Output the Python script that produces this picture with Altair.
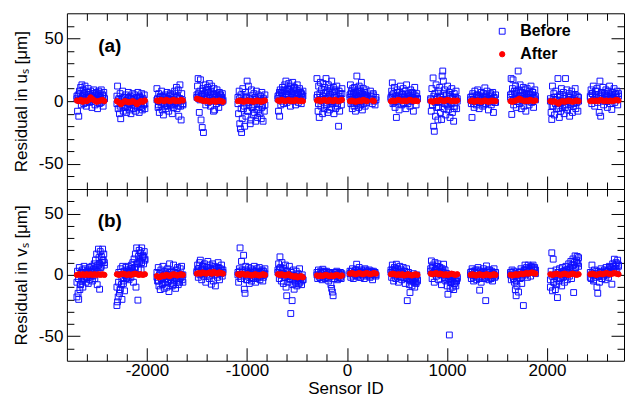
import altair as alt
import numpy as np
import pandas as pd

# ---------------- data ----------------
# sensor-ID ranges of the groups (sensors within a group are consecutive IDs)
ranges_u_before = [(-2700, -2425), (-2300, -2020), (-1900, -1640), (-1500, -1240), (-1090, -820),
                   (-690, -440), (-300, -50), (30, 200), (235, 290), (440, 705), (837, 1103),
                   (1236, 1486), (1635, 1885), (2034, 2316), (2433, 2715)]
ranges_u_after = [(-2700, -2425), (-2300, -2020), (-1900, -1640), (-1500, -1240), (-1090, -820),
                  (-690, -440), (-300, -50), (30, 200), (255, 270), (440, 705), (837, 1103),
                  (1236, 1486), (1635, 1885), (2034, 2316), (2433, 2715)]
ranges_v = [(-2700, -2425), (-2300, -2020), (-1900, -1640), (-1500, -1240), (-1090, -820),
            (-690, -440), (-300, -50), (30, 290), (440, 705), (837, 1103),
            (1236, 1486), (1635, 1885), (2034, 2316), (2433, 2715)]

# "Before" residuals in u (panel a): outer scatter of each group
before_u = [
    [2, -8, 5, -12, 8, 1, 11, -3, 13, 4, 9, -2, 6, 12, 3, -4, 7, 0, 10, 5, -1, 4, 8, 2, -5, 6, 3, 9, 1, -3, 5, 7, 2, -6, 4, 8, -2, 6, 3, 9, 0, 5, -4, 7, 2],
    [4, 12, -6, 2, -10, 6, -14, 0, -3, 8, -8, 3, -1, -5, 5, -9, 1, -4, 7, -2, -7, 4, -10, 2, -3, 6, -6, 0, 5, -8, -1, 3, -5, 7, -2, -9, 4, -4, 1, 6, -7, 2, -3, 5, -6],
    [10, 2, -5, 6, -9, 0, 4, -3, 8, -7, 1, -11, 3, -2, 5, -6, 0, 7, -4, 2, -8, 4, -1, 6, -3, 1, -10, 5, -5, 3, 8, -2, 0, 11, -6, 4, 9, -12, 2, 13, -4, -15, 6, 1, -3],
    [5, 12, 18, 2, -9, 8, 17, -15, 4, -21, 10, -25, 1, 6, 13, -3, 9, 3, 11, -1, 7, 14, 2, -4, 8, 12, 0, 5, -8, 10, -7, 3, 6, -2, 9, 1, 4, -5, 7, 2, 5, -1, 3, 6, 0],
    [3, -10, 8, -18, -22, 5, -25, -14, 10, -6, 1, -20, 7, -12, 4, 16, -8, 12, -3, 2, -18, -15, 9, -5, 0, -11, 6, -9, 3, -16, 8, -2, -13, 5, -7, 1, -10, 4, -14, 7, -4, -16, 2, -8, 5],
    [2, -8, 5, -12, 9, -3, 7, 0, 11, 4, -2, 8, 13, 3, 16, 6, -1, 10, 5, 14, 1, 9, -4, 12, 7, 3, 15, 8, 0, 11, 5, -3, 9, 2, 13, 6, -1, 4, 10, 1, 7, -2, 5, 3, 8],
    [18, 5, -8, 12, -13, 3, 15, -4, 9, 0, -10, 14, 6, -6, 11, 2, 18, -3, 8, -9, 13, 4, -7, 10, 1, -5, 16, 7, -2, 11, -10, 3, 9, -6, 5, 12, -4, 0, -20, 8, -8, 6, 2, -3, 10],
    [5, 13, -2, 8, 3, -6, 10, 0, 6, -4, 11, 2, -8, 7, 4, 20, -1, 9, 3, -5, 12, 1, 6, -3, 8, 15, 2, -7, 5, 10, -2, 4, 7, -4, 1, 9, 3, -1],
    [8, 4, -2, 6, 0, -3, 3],
    [3, 8, 14.6, -2, 6, 11, -5, 2, -13, 9, 0, 4, -7, 7, 12, 1, -3, 5, 10, -1, 3, 8, -6, 13, 2, -2, 6, 4, -4, 9, 0, 7, 3, -8, 5, 11, 1, -3, 6, 2],
    [2, -8, 10, -3, 18.5, -20, -24, 6, -12, 13, -5, 3, -15, 8, -1, 11, -9, 4, -14.6, 20, 24, 16, -6, 9, 1, -11, 5, -3, 12, -7, 0, 7, -13, 4, -2, 10, -9, 3, -16, 6, -4, 1, 8, -6, 2],
    [3, -2, -13, 6, 1, -5, 8, 0, -3, 5, 9, 2, -6, 4, -1, 7, 3, -4, 6, 1, 10.6, -2, 5, 8, 0, -7, 4, 2, 6, -3, 1, 7, -9, 3, -1, 5],
    [5, 18, -10.6, 10, 17, -3, 8, 2, 12, -5, 6, 0, 24, 9, -2, 13, 4, -6, 7, 1, 11, -4, 5, 9, -8, 3, 10, 0, 6, -3, 8, 2, 12, -1, 5, 7, -5, 3, 9, 1],
    [2, -9, -14.6, 12, -4, 6, -11, 1, 8, -6, 3, 18, -2, -13, 5, -8, 10, 0, -5, 7, -10, 4, 18, -3, 9, -7, 1, 6, -12, 3, -1, 8, -9, 5, -4, 2, 10, -6, 0, 4, -8, 3],
    [4, 9, -2, 6, 12, 1, -4, 8, 3, 10, -1, 5, -9, 16, -12, 7, 2, 11, -3, 6, 0, 9, 4, -5, 8, 2, 12, -2, 5, -6.6, 7, 3, 10, -1, 6, 1, 8, -3, 4],
]

# "Before" residuals in u: dense core of each group
core_u = [
    [4, 1, 6, 2, 5, -1, 3, 7, 0, 4, 2, 6, 1, 5, 3, -1, 4, 2],
    [-2, 1, -4, 2, -1, -5, 0, 3, -3, -1, 2, -4, 0, -2, 3, -5, 1, -2],
    [1, -3, 3, -1, 4, -4, 0, 2, -2, 5, -3, 1, -1, 3, -4, 2, 0, -2],
    [3, 6, 1, 5, 8, 2, 4, 7, 0, 5, 3, 6, 1, 4, 2, 5, 3, 1],
    [-2, 2, -6, 0, -4, 3, -8, -1, 1, -5, -3, 2, -7, 0, -2, -5, 1, -3],
    [4, 7, 2, 6, 9, 3, 5, 8, 1, 6, 4, 10, 2, 5, 7, 3, 6, 4],
    [3, -2, 6, 1, 4, -3, 7, 2, 0, 5, -1, 3, 8, 1, -2, 4, 2, 6],
    [3, 6, 0, 4, 7, 2, 5, -2, 3, 8, 1, 4, 6, 0, 3, 5, 2, 4],
    [2, 5, 1],
    [2, 5, -1, 4, 7, 1, 3, 6, -2, 4, 2, 5, 0, 3, 6, 1, 4, 2],
    [1, -3, 4, -1, 2, -5, 3, 0, 6, -2, 1, -4, 4, -1, 2, -6, 3, 0],
    [1, 4, -2, 3, 0, 5, -1, 2, 4, -3, 1, 3, -1, 2, 5, 0, 2, -1],
    [3, 6, 1, 5, 8, 2, 4, 7, 0, 4, 2, 6, 3, 1, 5, 7, 2, 4],
    [0, -4, 3, -2, 1, -6, 4, -1, 2, -5, 0, 3, -3, 1, -2, 5, -1, 0],
    [3, 6, 1, 5, 8, 2, 4, 7, 0, 5, 3, 6, 1, 4, 2, 5, 3, 6],
]

after_u = [
    [0.5, 0, 1, -0.5, 0.5, 0, 1, 3, 1.5, 0.5, -0.5, 0, 0.5, 1, 0],
    [0, -1, -2.5, -1, 0, -0.5, -1, -0.5, 0, -1, -2.5, -1, 0, -0.5, 0.5],
    [0.5, 0, 1, 0.5, 0, 1, 0.5, 0, 0.5, 1, 0, 0.5, 0, 1, 0.5],
    [2, 1.5, 1, 0.5, 0, 0.5, 0, -0.5, 0, 0.5, -0.5, 0, 0.5, 0, -0.5],
    [0, 0.5, 0, -0.5, 0, 0.5, 0, 0, -0.5, 0, 0.5, 0, -0.5, 0, 0.5],
    [0.5, 0, 1, 0.5, 0, 0.5, 1, 0, 0.5, 0, 1, 0.5, 0, 0.5, 0],
    [0.5, 1, 0, 0.5, 1, 0.5, 0, 1, 0.5, 0, 1, 0.5, 0, 0.5, 1],
    [0, 0.5, 0, -0.5, 0, 0.5, 0, 1, 0.5, 0],
    [0.5, 0],
    [0, 0.5, 0, 0.5, 1, 0.5, 0, 0.5, 0, 0.5, 1, 0.5, 0, 0.5, 0],
    [0, -0.5, 0, 0.5, 0, 1, 0.5, 0, 0.5, 1, 0.5, 0, 0.5, 0, 0.5],
    [0, 0.5, -0.5, 0, 0.5, 0, -0.5, 0, 0.5, 0, -0.5, 0, 0.5, 0, 0],
    [0, -0.5, 0, 0.5, 1, 2, 1, 0.5, 0, 0.5, 0, 1, 0.5, 0, 0.5],
    [0, -0.5, 0, -1, -2, -0.5, 0, -0.5, 0, 0.5, 0, -0.5, 0, 0.5, 0],
    [0, 0.5, 0, 0.5, 0, 1, 0.5, 0, 0.5, 0, 0.5, 0, 0.5, 1, 0.5],
]

# "Before" residuals in v (panel b): outer scatter of each group
before_v = [
    [-18, 3, -15, -20, 6, -12, -8, 2, -5, 4, -10, 0, 7, -3, 5, -6, 2, -2, 4, -7, 1, 6, -4, 3, -1, 7, -5, 2, 5, 9, -3, 12, 3, 17, -8, 8, 21, 14, -11.7, 19, 6, 15, 10, 21, 12, 17, 8],
    [-25, -22, -18, 2, -15, -12, 5, -8, -20, 7, -5, 3, -13, 0, 6, -3, 4, -1, 7, -4, 2, 5, -2, 8, 3, 10, -6, 13, 6, 17, -10, 22, 9, -20.6, 15, 20, 11, 18, 4, 22, 14, 16, 9, 19, 12],
    [2, -5, 6, -9, 0, -12, 4, -3, -8, 7, -1, -11, 3, -6, 1, -10, 5, -4, -13.6, 9, -2, -7, 3, -9, 0, 8, -5, 2, -11, 4, -3, 6, -8, 1, -6, 5, -2, 7, -4, 0],
    [3, 8, -2, 5, 10, 12, 1, -4, 7, 4, -1, 9, 2, -6, 6, 0, 11, 3, -3, 8, 5, -7.6, 1, 9, -5, 4, 7, -9, 2, 6, -2, 10, 3, -4, 5, 1, 8, -1, 4],
    [2, -6, 5, 22, -3, 11, 4, 0, 16, -11.7, -15, 7, -4, 3, -1, 6, -7, 2, 5, -5, 1, 4, -3, 7, 0, -6, 3, 5, -2, 1, 6, -4, 2, -1, 4, -5, 3, 0, 5],
    [4, 9, -3, 14.7, 6, -5, 10, 1, -7, 5, -2, 8, -10, -17, 3, -6, 0, 7, -4, -31.5, 2, -21, -8, 4, -11.7, -1, -6, 3, -9, -3, 1, -7, 5, -5, -2, -8, 0, -4],
    [2, -3, 4, 0, -2, 3, 1, -4, 4.6, -1, 2, -3, 0, 3, -2, 1, -5, 2, -1, -8, -11, -14, -17, 0, -3, 2, -1, 3, -4, 1, -2, 0, 2, -3, 1],
    [3, -2, 1, 5, -3, 2, 0, 4, 8.7, -1, 3, 6, -2, 1, 4, 0, 2, -3, 5, 1, -1, 3, 0, 4, -2, 2, 1, -4, 3, 0, 2, -1],
    [4, -2, 8, 1, -5, 6, 3, -3, 8.7, 0, 5, -6, 2, 7, -1, 4, -4, 1, 6, -2, 3, -7, 0, 5, -21, -3, 2, -8, -14.4, -5, -1, -9, -4, 1, -6, -10, -3, -7, 0, -5],
    [5, 11.4, -3, 8, 2, -6, 10, 4, -1, 7, 9, -4, 3, 6, 0, -8, 5, 2, 8.7, -2, 4, -5, 1, -9, -15.8, -3, -49, -11, -6, 0, -10, -4, -12, -7, -1, -9, -5, -2],
    [2, -3, 5, 0, -5, 3, -1, 4, -4, 1, 6, -2, -12.5, 3, -6, 2, 0, 5, -3, 1, -21, 7.3, -1, 4, -4, 2, 0, -2, 3, -5, 1, 5, -2, 2],
    [2, -4, 4, -1, 3, -6, -12, -17, -9, 0, -14, 2, -3, 5, -7, 1, -25, 4, 8, 0, 6, -2, 8, 3, 5, -1, 7, 2, 8, 4, 6, 1],
    [-10, 3, 18, -13, 12.8, -6, 0, -12, 4, -8, -18.5, 2, -5, 5, -3, 1, -9, 6, -2, 3, -6, 0, 7, 4, -4, 2, 9, -1, 5, 11, -3, 8, 13, -14.4, 10, 15.5, 6, 12, 15, 9, 14],
    [2, -3, 8, 0, -5, 4, -2, 1, -10, -15, 3, -6, 0, 5, -3, 2, -1, 4, -4, 6, 1, 3, -2, 7, 2, 5, -7.6, 9, 4, 12.8, 7, 10, 3, 12, 8],
]

# "Before" residuals in v: dense core of each group
core_v = [
    [-6, -3, -8, -1, -4, 1, -2, 3, 0, 2, -1, 4, 6, 3, 9, 7, 12, 10],
    [-10, -6, -12, -3, -7, 0, -2, 3, 1, 4, 2, 6, 9, 5, 12, 10, 15, 13],
    [-2, -5, 1, -4, -7, 0, -3, -6, 2, -4, -1, -8, -2, 1, -5, -3, 0, -6],
    [2, 5, 0, 4, 7, 1, 3, 6, -1, 4, 2, 5, 0, 3, 6, 1, 4, 2],
    [0, 3, -3, 2, -1, 4, -4, 1, 2, -2, 3, -3, 0, 2, -1, 3, -2, 1],
    [2, 5, 0, 4, 1, -2, 3, -1, -3, 0, -4, -2, -5, -1, -3, -6, -2, -4],
    [0, 2, -2, 1, -1, 3, -2, 0, 2, -1, 1, -3, 0, 2, -1, 1, -2, 0],
    [1, 3, -1, 2, 4, 0, 2, -2, 3, 1, 4, 0, 2, -1, 3, 1, 2, 0],
    [2, 4, 0, 5, 1, 3, -2, 2, 0, 3, -3, -1, -4, -2, -5, -3, -6, -4],
    [3, 6, 1, 4, 7, 2, 5, 0, 3, -2, 1, -4, -1, -6, -3, -7, -5, -3],
    [0, 3, -2, 2, -1, 4, -3, 1, 0, 3, -2, 2, -1, 4, -3, 1, 0, -1],
    [0, 2, -3, 1, -5, -2, 0, 3, -1, 2, 4, 1, 5, 3, 6, 2, 5, 4],
    [-4, -1, -6, 0, -3, 2, -2, 1, 3, 0, 4, 2, 6, 3, 8, 5, 10, 7],
    [-2, 1, -4, 0, 3, -1, 2, -3, 1, 3, 0, 4, 6, 3, 7, 5, 9, 7],
]

after_v = [
    [0, 0.5, 0, 0.5, 0, 0.5, 0, 0.5, 0, 0.5, 0, 0.5, 0, 0.5, 0],
    [0.5, 0, 0.5, 1, 0.5, 0, 0.5, 0, 0.5, 1, 0.5, 0, 0.5, 0, 0.5],
    [-1, -2, -1.5, -0.5, -1, 0, -0.5, -1, 0, 0.5, 0, -0.5, 0, 0.5, 0],
    [1, 1.5, 1, 2, 1.5, 1, 1.5, 2, 1, 2.5, 1.5, 1, 2, 1.5, 1],
    [0.5, 0, 1, 0.5, 0, 0.5, 0, -0.5, 0, 0.5, 0, -0.5, 0, 0.5, 0],
    [0.5, 0, 0.5, 0, -0.5, 0, 0.5, -0.5, -1, -1.5, -1, -2, -1.5, -1, -2],
    [-0.5, -1, -0.5, -1, -0.5, 0, -0.5, -1, -0.5, -1, -0.5, 0, -0.5, -1, -0.5],
    [1, 1.5, 1, 0.5, 1, 1.5, 1, 0.5, 1, 1.5, 1, 0.5, 1, 1.5, 1],
    [0.5, 1, 0.5, 0, 0.5, 0, 0.5, -0.5, 0, 0.5, 0, -0.5, 0, 0.5, 0],
    [1, 0.5, 1, 1.5, 0.5, 1, 0.5, 0, 0.5, 0, 0.5, 1, 0.5, 0, 0.5],
    [0, 0.5, 0, -0.5, 0, 0.5, 0, -0.5, 0, 0.5, 0, -0.5, 0, 0.5, 0],
    [0, -0.5, 0, 0.5, 0, 0.5, 1, 0.5, 1, 1.5, 1, 1.5, 2, 1.5, 1],
    [0.5, 0, 0.5, 1, 0.5, 0, 0.5, 1, 0.5, 0, 0.5, 1, 0.5, 0, 0.5],
    [0.5, 1, 0.5, 0, 0.5, 1, 0.5, 1, 1.5, 1, 0.5, 1, 1.5, 1, 0.5],
]

series_names = ["Before", "After"]
panel_titles = ["Residual in uₛ [μm]", "Residual in vₛ [μm]"]
panel_tags = ["(a)", "(b)"]


def build(ranges_b, vals_b, core_b, ranges_a, vals_a):
    rows = []
    for group in (vals_b, core_b):
        for (lo, hi), vals in zip(ranges_b, group):
            for s, v in zip(np.linspace(lo, hi, len(vals)), vals):
                rows.append({"sensor": float(s), "residual": v, "series": "Before"})
    for (lo, hi), vals in zip(ranges_a, vals_a):
        for s, v in zip(np.linspace(lo, hi, len(vals)), vals):
            rows.append({"sensor": float(s), "residual": v, "series": "After"})
    return pd.DataFrame(rows)


df_u = build(ranges_u_before, before_u, core_u, ranges_u_after, after_u)
df_v = build(ranges_v, before_v, core_v, ranges_v, after_v)

# ---------------- layout ----------------
W = 558
H = [176, 172]
FONT = "Liberation Sans"
XDOM = [-2800, 2770]
YDOM = [-70, 70]


def dash(length, major, minor):
    return [major, length - 2 * major, major, 4000], [minor, length - 2 * minor, minor, 4000]


def panel(df, idx):
    maj_y, min_y = dash(W, 13, 7)
    maj_x, min_x = dash(H[idx], 13, 7)
    bottom = idx == 1
    xkw = dict(
        values=list(range(-2600, 2601, 200)),
        labels=bottom,
        labelExpr="datum.value % 1000 === 0 ? '' + datum.value : ''",
        labelFont=FONT, labelFontSize=17, labelColor="black", labelPadding=2,
        ticks=False, domain=False,
        grid=True, gridColor="black", gridOpacity=1, gridWidth=1,
        gridDash={"condition": {"test": "datum.value % 1000 === 0", "value": maj_x}, "value": min_x},
        titleFont=FONT, titleFontSize=17, titleFontWeight="normal", titleColor="black", titlePadding=2,
    )
    if bottom:
        xkw["title"] = "Sensor ID"
    else:
        xkw["title"] = None
        xkw["minExtent"] = 0
        xkw["maxExtent"] = 0
    xaxis = alt.Axis(**xkw)
    yaxis = alt.Axis(
        values=list(range(-60, 61, 10)),
        labelExpr="datum.value % 50 === 0 ? '' + datum.value : ''",
        labelFont=FONT, labelFontSize=17, labelColor="black", labelPadding=4,
        ticks=False, domain=False,
        grid=True, gridColor="black", gridOpacity=1, gridWidth=1,
        gridDash={"condition": {"test": "datum.value % 50 === 0", "value": maj_y}, "value": min_y},
        title=panel_titles[idx], titleFont=FONT, titleFontSize=17, titleFontWeight="normal",
        titleColor="black", titlePadding=6, minExtent=30, maxExtent=30,
    )
    if idx == 0:
        leg = alt.Legend(title=None, orient="none", legendX=428, legendY=10, padding=0,
                         labelFont=FONT, labelFontSize=16, labelFontWeight="bold", labelColor="black",
                         rowPadding=7, labelOffset=10, symbolStrokeWidth=1)
    else:
        leg = None
    pts = alt.Chart(df).mark_point(opacity=1, strokeWidth=1).encode(
        x=alt.X("sensor:Q", scale=alt.Scale(domain=XDOM, nice=False, zero=False), axis=xaxis),
        y=alt.Y("residual:Q", scale=alt.Scale(domain=YDOM, nice=False), axis=yaxis),
        shape=alt.Shape("series:N", scale=alt.Scale(domain=series_names, range=["square", "circle"]), legend=leg),
        stroke=alt.Stroke("series:N", scale=alt.Scale(domain=series_names, range=["#1010ff", "#ff0000"]), legend=leg),
        fill=alt.Fill("series:N", scale=alt.Scale(domain=series_names, range=["transparent", "#ff0000"]), legend=leg),
        size=alt.Size("series:N", scale=alt.Scale(domain=series_names, range=[34, 28]), legend=leg),
    )
    tag = alt.Chart(pd.DataFrame({"tag": [panel_tags[idx]]})).mark_text(
        font=FONT, fontSize=19, fontWeight="bold", color="black", align="center", baseline="middle"
    ).encode(x=alt.value(43), y=alt.value(33 if idx == 0 else 32), text="tag:N")
    return alt.layer(pts, tag).properties(width=W, height=H[idx])


chart = alt.vconcat(panel(df_u, 0), panel(df_v, 1), spacing=0, bounds="flush").resolve_legend(
    shape="independent", stroke="independent", fill="independent", size="independent"
).properties(
    padding={"left": 12, "top": 12, "right": 0, "bottom": 0}, background="white"
).configure_view(stroke="black", strokeWidth=1)

chart.save("out.html", embed_options={"renderer": "svg", "actions": False})
